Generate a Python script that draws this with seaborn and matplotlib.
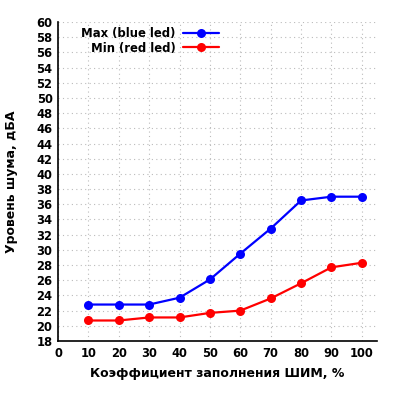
import matplotlib
matplotlib.use("Agg")
import matplotlib.pyplot as plt
import seaborn as sns
import pandas as pd
from matplotlib.ticker import MultipleLocator

pwm = [10, 20, 30, 40, 50, 60, 70, 80, 90, 100]
max_blue = [22.8, 22.8, 22.8, 23.7, 26.1, 29.5, 32.8, 36.5, 37.0, 37.0]
min_red = [20.7, 20.7, 21.1, 21.1, 21.7, 22.0, 23.6, 25.6, 27.7, 28.3]
label_max = "Max (blue led)"
label_min = "Min (red led)"

sns.set_style("white")
plt.rcParams['font.family'] = ['DejaVu Sans']
plt.rcParams['font.weight'] = 'bold'
plt.rcParams['text.color'] = 'black'
plt.rcParams['axes.labelcolor'] = 'black'
plt.rcParams['xtick.color'] = 'black'
plt.rcParams['ytick.color'] = 'black'

df = pd.DataFrame({
    "x": pwm * 2,
    "y": max_blue + min_red,
    "s": [label_max] * len(pwm) + [label_min] * len(pwm),
})

fig = plt.figure(figsize=(4, 4), dpi=100)
ax = fig.add_axes([0.145, 0.1475, 0.7975, 0.7975])
sns.lineplot(data=df, x="x", y="y", hue="s", palette={label_max: "#0000ff", label_min: "#ff0000"},
             marker="o", markersize=6.5, markeredgewidth=0, linewidth=1.6, ax=ax)

ax.set_xlim(0, 105)
ax.set_ylim(18, 60)
ax.xaxis.set_major_locator(MultipleLocator(10))
ax.xaxis.set_minor_locator(MultipleLocator(2))
ax.yaxis.set_major_locator(MultipleLocator(2))
ax.yaxis.set_minor_locator(MultipleLocator(1))
ax.set_xticks(range(0, 101, 10))
ax.tick_params(which='major', direction='in', length=4, width=1, labelsize=8.3, pad=4, colors='black')
ax.tick_params(which='minor', direction='in', length=2, width=0.8, colors='black')
for lab in ax.get_xticklabels() + ax.get_yticklabels():
    lab.set_fontweight('bold')
ax.grid(True, which='major', color='#bbbbbb', linestyle=(0, (1, 3)), linewidth=0.8)
for s in ['top', 'right']:
    ax.spines[s].set_visible(False)
for s in ['left', 'bottom']:
    ax.spines[s].set_color('black')
    ax.spines[s].set_linewidth(1.2)

ax.set_xlabel("Коэффициент заполнения ШИМ, %", fontsize=9, fontweight='bold', labelpad=5, color='black')
ax.set_ylabel("Уровень шума, дБА", fontsize=9, fontweight='bold', labelpad=13, color='black')

leg = ax.legend(loc='upper left', bbox_to_anchor=(0.04, 1.018), frameon=False, markerfirst=False,
                fontsize=8.4, handlelength=3.1, handletextpad=0.6, labelspacing=0.15)
for t in leg.get_texts():
    t.set_fontweight('bold')
    t.set_color('black')
leg._legend_box.align = 'right'

fig.savefig("out.png", dpi=100)
